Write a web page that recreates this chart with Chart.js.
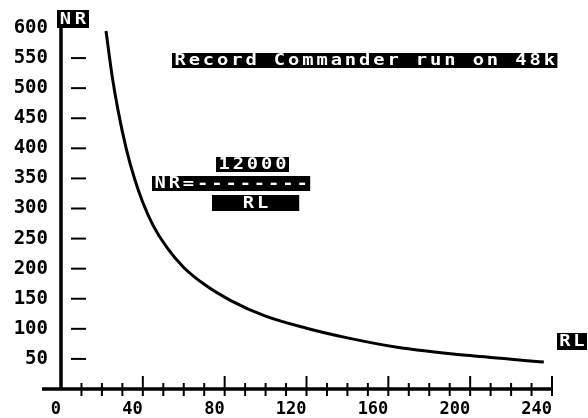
<!DOCTYPE html>
<html>
<head>
<meta charset="utf-8">
<script src="https://cdn.jsdelivr.net/npm/chart.js@4"></script>
<style>
  html, body { margin: 0; padding: 0; background: #fff; }
</style>
</head>
<body>
<canvas id="plot" width="588" height="418"></canvas>
<script>
// values (RL across, NR up)
const rlValues = [22, 25, 28, 32, 36, 40, 45, 52, 60, 70, 83, 100, 120, 140, 165, 200, 236];
const nrValues = [595, 520, 461, 398, 349, 310, 272, 234, 202, 174, 147, 121, 101, 85, 69, 55.5, 45];
const xLabelValues = [0, 40, 80, 120, 160, 200, 240];
const yLabelValues = [50, 100, 150, 200, 250, 300, 350, 400, 450, 500, 550, 600];
const titleText = 'Record Commander run on 48k';
const formulaText = ['12000', 'NR=--------', '  RL  '];
const xAxisName = 'RL';
const yAxisName = 'NR';

const points = rlValues.map((rl, i) => ({ x: rl, y: nrValues[i] }));
const monoFont = '"DejaVu Sans Mono", "Liberation Mono", monospace';

// white text on a black block, one character per fixed cell
function blockText(ctx, text, x, y, pitch, h) {
    ctx.save();
    ctx.fillStyle = '#000';
    ctx.fillRect(x, y, text.length * pitch + 2, h);
    ctx.fillStyle = '#fff';
    ctx.font = 'bold 15px ' + monoFont;
    ctx.textAlign = 'center';
    ctx.textBaseline = 'middle';
    for (let i = 0; i < text.length; i++) {
        ctx.save();
        ctx.translate(x + 1 + pitch * (i + 0.5), y + h / 2 + 1);
        ctx.scale(1.25, 1);
        ctx.fillText(text[i], 0, 0);
        ctx.restore();
    }
    ctx.restore();
}

const printoutPlugin = {
    id: 'printout',
    afterDraw(chart) {
        const ctx = chart.ctx;
        const xs = chart.scales.x;
        const ys = chart.scales.y;
        const x0 = xs.getPixelForValue(0);
        const y0 = ys.getPixelForValue(0);
        ctx.save();
        ctx.strokeStyle = '#000';
        ctx.lineCap = 'butt';

        // axes
        ctx.lineWidth = 3.5;
        ctx.beginPath();
        ctx.moveTo(x0, ys.getPixelForValue(600));
        ctx.lineTo(x0, y0 + 1);
        ctx.moveTo(42, y0);
        ctx.lineTo(xs.getPixelForValue(240) + 1, y0);
        ctx.stroke();

        // x ticks every 10, longer ones at the labelled values
        ctx.lineWidth = 2;
        xs.ticks.forEach(t => {
            if (t.value === 0) return;
            const px = xs.getPixelForValue(t.value);
            const major = xLabelValues.includes(t.value);
            ctx.beginPath();
            ctx.moveTo(px, y0 - (major ? 13 : 6));
            ctx.lineTo(px, y0 + 7);
            ctx.stroke();
        });

        // y dashes
        yLabelValues.forEach(v => {
            if (v === 600) return;
            const py = ys.getPixelForValue(v);
            ctx.beginPath();
            ctx.moveTo(x0 + 10, py);
            ctx.lineTo(x0 + 25, py);
            ctx.stroke();
        });
        ctx.restore();

        blockText(ctx, yAxisName, 57, 10, 15, 18);
        blockText(ctx, xAxisName, 557, 333, 14, 17);
        blockText(ctx, titleText, 172, 53, 14.2, 15);
        blockText(ctx, formulaText[0], 216, 157, 14.2, 15);
        blockText(ctx, formulaText[1], 152, 176, 14.2, 15);
        blockText(ctx, formulaText[2], 212, 195, 14.2, 16);
    }
};

const plotChart = new Chart(document.getElementById('plot').getContext('2d'), {
    type: 'line',
    data: {
        datasets: [{
            data: points,
            borderColor: '#000',
            borderWidth: 3,
            pointRadius: 0,
            fill: false,
            cubicInterpolationMode: 'monotone'
        }]
    },
    options: {
        responsive: false,
        animation: false,
        layout: { padding: { top: 28, right: 36, left: 0, bottom: 0 } },
        plugins: { legend: { display: false }, tooltip: { enabled: false } },
        scales: {
            x: {
                type: 'linear',
                min: 0,
                max: 240,
                afterFit: s => { s.height = 29; },
                grid: { display: false, drawTicks: false },
                border: { display: false },
                ticks: {
                    stepSize: 10,
                    autoSkip: false,
                    maxRotation: 0,
                    align: 'end',
                    padding: 10,
                    color: '#000',
                    font: { family: monoFont, size: 17, weight: 'bold' },
                    callback: v => xLabelValues.includes(v) ? String(v) : ''
                }
            },
            y: {
                type: 'linear',
                min: 0,
                max: 600,
                afterFit: s => { s.width = 61; },
                grid: { display: false, drawTicks: false },
                border: { display: false },
                ticks: {
                    stepSize: 50,
                    autoSkip: false,
                    padding: 13,
                    color: '#000',
                    font: { family: monoFont, size: 19, weight: 'bold' },
                    callback: v => yLabelValues.includes(v) ? String(v) : ''
                }
            }
        }
    },
    plugins: [printoutPlugin]
});
</script>
</body>
</html>
